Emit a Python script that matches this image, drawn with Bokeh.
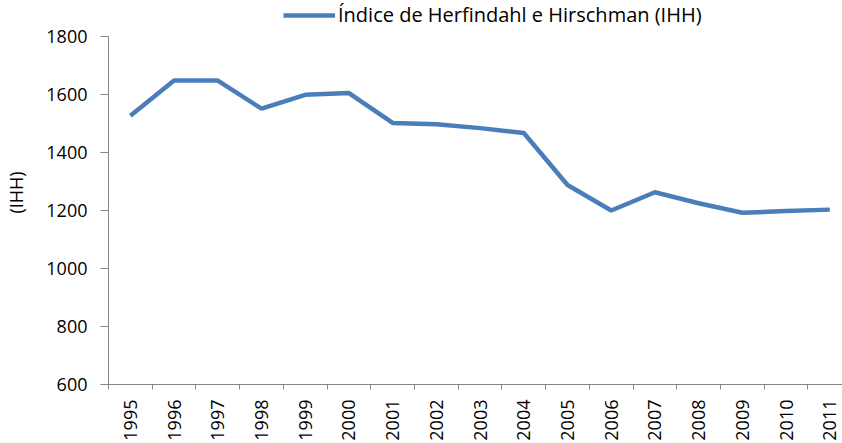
from bokeh.plotting import figure
from bokeh.models import Range1d, FixedTicker, Legend, LegendItem
from bokeh.embed import file_html
from bokeh.resources import INLINE

years = ["1995", "1996", "1997", "1998", "1999", "2000", "2001", "2002", "2003",
         "2004", "2005", "2006", "2007", "2008", "2009", "2010", "2011"]
ihh = [1527, 1648, 1648, 1551, 1599, 1605, 1502, 1497, 1484,
       1467, 1288, 1200, 1263, 1225, 1192, 1198, 1203]
y_ticks = [600, 800, 1000, 1200, 1400, 1600, 1800]
series_name = "Índice de Herfindahl e Hirschman (IHH)"
y_label = "(IHH)"

xs = list(range(len(years)))

# frame spans the full height above the x axis; the y axis line is bounded to 600..1800
p = figure(width=842, height=443, output_backend="svg", toolbar_location=None,
           x_range=Range1d(-0.5, 16.29), y_range=Range1d(600, 1924.1),
           min_border_left=108, min_border_right=0, min_border_top=0,
           min_border_bottom=59)
p.outline_line_color = None
p.xgrid.visible = False
p.ygrid.visible = False
p.background_fill_color = "white"

r = p.line(xs, ihh, line_color="#4A7EBB", line_width=4.5)

axis_color = "#868686"
font = "Open Sans"

xa = p.xaxis[0]
xa.ticker = FixedTicker(ticks=xs, minor_ticks=[i - 0.5 for i in range(len(years) + 1)])
xa.major_label_overrides = {i: y for i, y in enumerate(years)}
xa.major_label_orientation = 1.5708
xa.major_label_text_font = font
xa.major_label_text_font_size = "18px"
xa.major_label_text_color = "black"
xa.major_label_standoff = 10
xa.major_tick_line_color = None
xa.major_tick_in = 0
xa.major_tick_out = 0
xa.minor_tick_in = 0
xa.minor_tick_out = 5
xa.minor_tick_line_color = axis_color
xa.axis_line_color = axis_color

ya = p.yaxis[0]
ya.ticker = FixedTicker(ticks=y_ticks)
ya.bounds = (600, 1800)
ya.major_label_text_font = font
ya.major_label_text_font_size = "18px"
ya.major_label_text_color = "black"
ya.major_label_standoff = 13
ya.major_tick_in = 0
ya.major_tick_out = 8
ya.major_tick_line_color = axis_color
ya.axis_line_color = axis_color
ya.minor_tick_line_color = None
ya.axis_label = y_label
ya.axis_label_text_font = font
ya.axis_label_text_font_size = "18px"
ya.axis_label_text_font_style = "normal"
ya.axis_label_text_color = "black"
ya.axis_label_standoff = 15

legend = Legend(items=[LegendItem(label=series_name, renderers=[r])],
                location=(175, 356), orientation="horizontal",
                border_line_color=None, background_fill_alpha=0,
                padding=0, margin=0, spacing=0,
                glyph_width=52, glyph_height=16, label_height=16,
                label_standoff=3, label_text_font=font,
                label_text_font_size="20px", label_text_color="black")
p.add_layout(legend, "center")

open("out.html", "w").write(file_html(p, INLINE))
